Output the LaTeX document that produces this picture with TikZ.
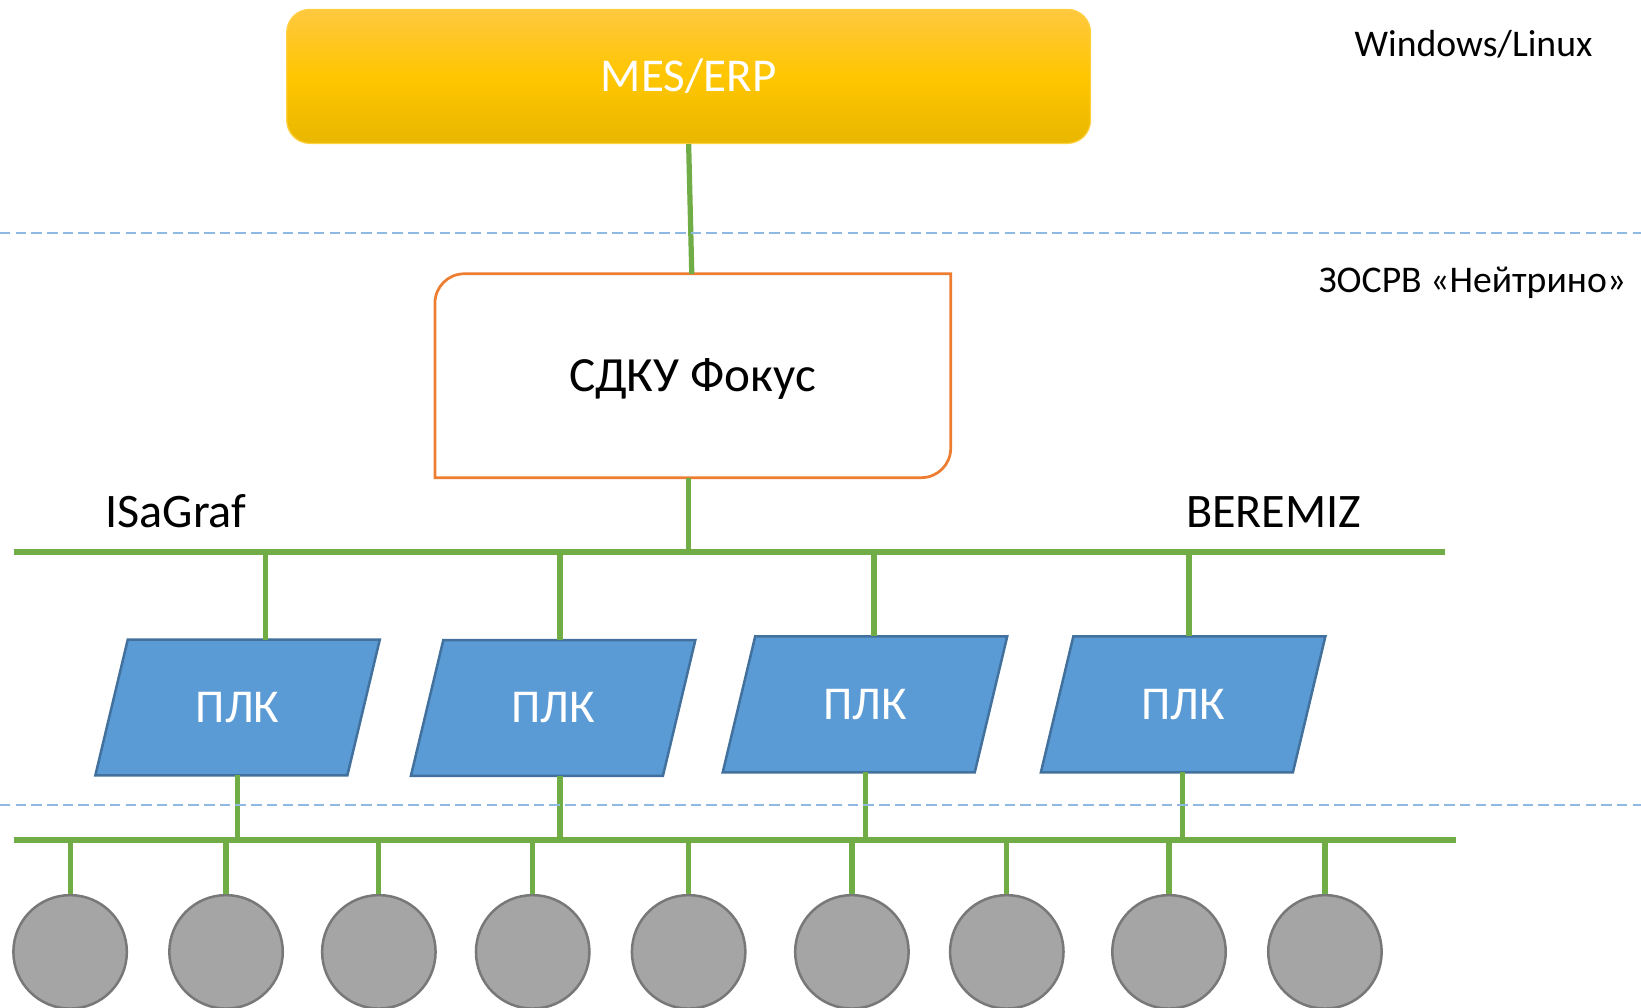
\documentclass[tikz,border=0pt]{standalone}
\usepackage{fontspec}
\setmainfont{Carlito}
\pgfdeclarelayer{bg}
\pgfsetlayers{bg,main}
\definecolor{wireGreen}{HTML}{70AD47}
\definecolor{plcFill}{HTML}{5B9BD5}
\definecolor{plcEdge}{HTML}{41719C}
\definecolor{devFill}{HTML}{A5A5A5}
\definecolor{devEdge}{HTML}{787878}
\definecolor{sdkuEdge}{HTML}{ED7D31}
\definecolor{sepBlue}{HTML}{8FB9E3}
\definecolor{mesTop}{HTML}{FFC83F}
\definecolor{mesMid}{HTML}{FFC600}
\definecolor{mesBot}{HTML}{E9B700}
\definecolor{mesEdge}{HTML}{FFD040}
\begin{document}
\begin{tikzpicture}[x=0.5pt,y=-0.5pt,
  wire/.style={draw=wireGreen, line width=2.5pt},
  bus/.style={draw=wireGreen, line width=2.9pt},
  sepline/.style={draw=sepBlue, line width=1pt, dash pattern=on 5pt off 2.5pt},
  mesbox/.style={rectangle, rounded corners=11pt, minimum width=384pt, minimum height=64pt,
    top color=mesTop, bottom color=mesBot, middle color=mesMid, draw=mesEdge, line width=0.6pt,
    text=white, font=\fontsize{22.5pt}{24pt}\selectfont, text height=14.2pt, text depth=0pt, inner sep=0pt},
  sdkubox/.style={rectangle, minimum width=246pt, minimum height=97pt, inner sep=0pt,
    font=\fontsize{23.5pt}{26pt}\selectfont, text height=14.85pt, text depth=0pt},
  sdkuline/.style={draw=sdkuEdge, line width=1.3pt},
  plcbox/.style={rectangle, minimum width=120pt, minimum height=64.5pt, inner sep=0pt, text=white,
    font=\fontsize{22.5pt}{25pt}\selectfont, text height=14.2pt, text depth=0pt},
  plcline/.style={fill=plcFill, draw=plcEdge, line width=1.2pt},
  dev/.style={circle, minimum size=54.2pt, inner sep=0pt, fill=devFill, draw=devEdge, line width=1.2pt},
  lblsmall/.style={inner sep=0pt, font=\fontsize{18pt}{20pt}\selectfont, text height=11.4pt, text depth=0pt},
  lblbig/.style={inner sep=0pt, font=\fontsize{23pt}{25pt}\selectfont, text height=14.5pt, text depth=0pt}
]
\useasboundingbox (0,0) rectangle (1568,963);
\begin{pgfonlayer}{bg}
\fill[white] (0,0) rectangle (1568,963);
\end{pgfonlayer}

% top level
\node[mesbox] (mes) at (658,73) {MES/ERP};
\node[lblsmall] (winlbl) at (1408,43) {Windows/Linux};
\node[lblsmall] (qnxlbl) at (1407,268) {ЗОСРВ «Нейтрино»};

% SCADA box
\node[sdkubox] (sdku) at (662,359) {СДКУ Фокус};
\draw[sdkuline] ([xshift=14pt]sdku.north west) -- (sdku.north east)
  -- ([yshift=14pt]sdku.south east)
  .. controls ([yshift=6.27pt]sdku.south east) and ([xshift=-6.27pt]sdku.south east) .. ([xshift=-14pt]sdku.south east)
  -- (sdku.south west) -- ([yshift=-14pt]sdku.north west)
  .. controls ([yshift=-6.27pt]sdku.north west) and ([xshift=6.27pt]sdku.north west) .. ([xshift=14pt]sdku.north west)
  -- cycle;

\draw[wire] (mes.south) -- ([xshift=-0.5pt]sdku.north);

% upper bus
\coordinate (b1L) at (13,527);
\coordinate (b1R) at (1381,527);
\coordinate (tc) at (658,527);
\draw[bus] (b1L) -- (b1R);
\draw[wire] (sdku.south -| tc) -- (tc);
\node[lblbig] (isagraf) at (168,490) {ISaGraf};
\node[lblbig] (beremiz) at (1217,490) {BEREMIZ};

% PLCs
\node[plcbox] (plc1) at (227,676) {ПЛК};
\node[plcbox] (plc2) at (528.5,676.5) {ПЛК};
\node[plcbox] (plc3) at (826.5,673) {ПЛК};
\node[plcbox] (plc4) at (1130.5,673) {ПЛК};
\begin{pgfonlayer}{bg}
\foreach \n in {1,2,3,4}{
  \draw[plcline] ([xshift=7.75pt]plc\n.north west) -- ([xshift=7.75pt]plc\n.north east)
    -- ([xshift=-7.75pt]plc\n.south east) -- ([xshift=-7.75pt]plc\n.south west) -- cycle;
}
\end{pgfonlayer}

\coordinate (t1) at (254,527);
\coordinate (t2) at (535,527);
\coordinate (t3) at (835,527);
\coordinate (t4) at (1136,527);
\foreach \n in {1,2,3,4}{
  \draw[wire] (t\n) -- (t\n |- plc\n.north);
}

% lower bus
\coordinate (b2L) at (13,803);
\coordinate (b2R) at (1391,803);
\draw[bus] (b2L) -- (b2R);
\coordinate (d1) at (227,803);
\coordinate (d2) at (535,803);
\coordinate (d3) at (827,803);
\coordinate (d4) at (1130,803);
\foreach \n in {1,2,3,4}{
  \draw[wire] (plc\n.south -| d\n) -- (d\n);
}

% field devices
\foreach \i/\x in {1/67,2/216,3/362,4/509,5/658,6/814,7/962,8/1117,9/1266}{
  \node[dev] (dev\i) at (\x,909.5) {};
  \draw[wire] (dev\i.north |- b2L) -- (dev\i.north);
}

% level separators
\coordinate (sA1) at (0,223);
\coordinate (sA2) at (1568,223);
\coordinate (sB1) at (0,769);
\coordinate (sB2) at (1568,769);
\draw[sepline] (sA1) -- (sA2);
\draw[sepline] (sB1) -- (sB2);
\end{tikzpicture}
\end{document}
